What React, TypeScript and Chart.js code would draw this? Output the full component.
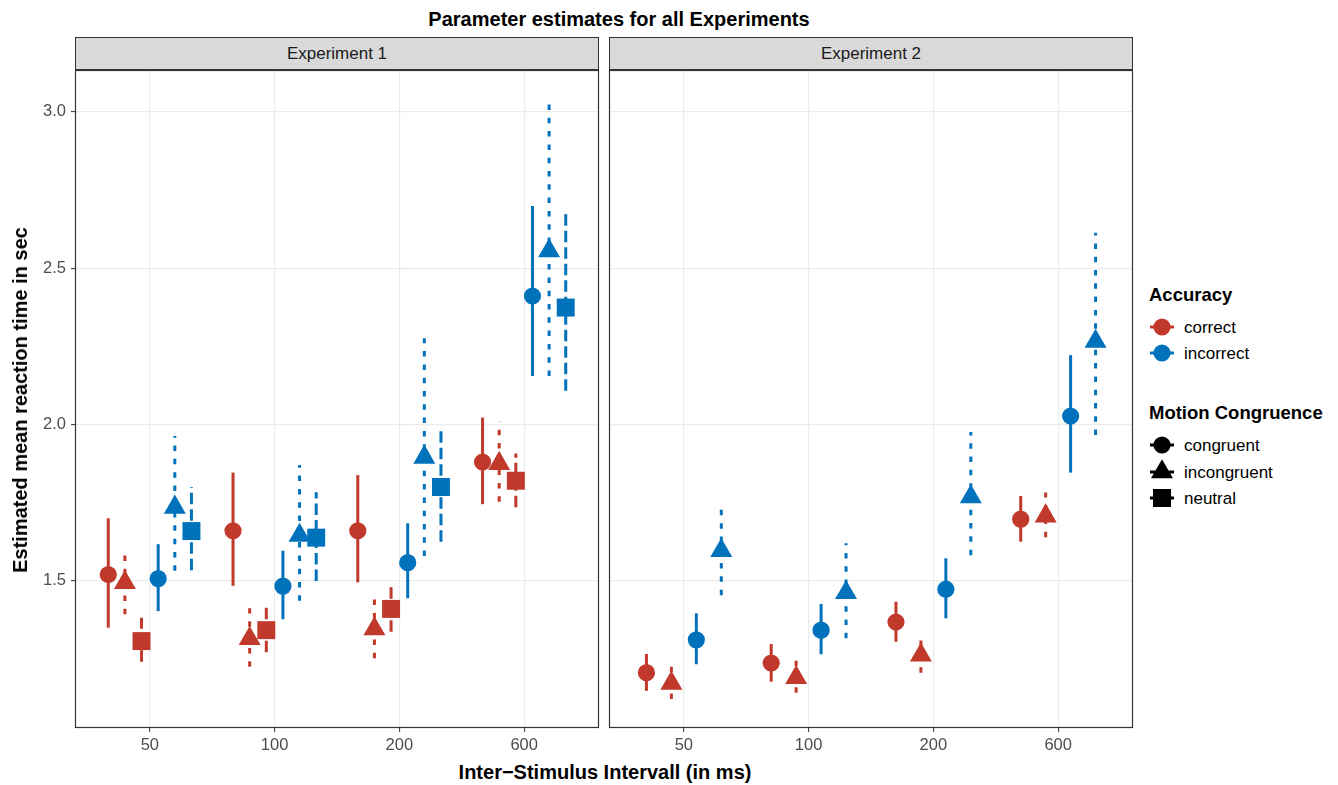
import React, { useEffect, useRef } from 'react';
import { Chart, registerables } from 'chart.js';

Chart.register(...registerables);

// ---------- data ----------
const isiLabels = ['50', '100', '200', '600'];
const yTicks = [1.5, 2.0, 2.5, 3.0];
const Y_MIN = 1.029;
const Y_MAX = 3.134;

// Experiment 1
const e1CorrectCongruent = [1.52, 1.66, 1.66, 1.88];
const e1CorrectCongruentLow = [1.35, 1.484, 1.495, 1.745];
const e1CorrectCongruentHigh = [1.70, 1.846, 1.838, 2.022];
const e1CorrectIncongruent = [1.494, 1.315, 1.346, 1.875];
const e1CorrectIncongruentLow = [1.393, 1.225, 1.252, 1.753];
const e1CorrectIncongruentHigh = [1.602, 1.412, 1.444, 2.009];
const e1CorrectNeutral = [1.307, 1.342, 1.41, 1.82];
const e1CorrectNeutralLow = [1.241, 1.271, 1.337, 1.735];
const e1CorrectNeutralHigh = [1.382, 1.417, 1.481, 1.907];
const e1IncorrectCongruent = [1.507, 1.483, 1.558, 2.411];
const e1IncorrectCongruentLow = [1.403, 1.377, 1.444, 2.155];
const e1IncorrectCongruentHigh = [1.617, 1.596, 1.684, 2.699];
const e1IncorrectIncongruent = [1.735, 1.645, 1.895, 2.555];
const e1IncorrectIncongruentLow = [1.532, 1.436, 1.579, 2.155];
const e1IncorrectIncongruentHigh = [1.963, 1.87, 2.276, 3.047];
const e1IncorrectNeutral = [1.659, 1.638, 1.80, 2.374];
const e1IncorrectNeutralLow = [1.534, 1.499, 1.625, 2.108];
const e1IncorrectNeutralHigh = [1.80, 1.783, 1.993, 2.676];

// Experiment 2
const e2CorrectCongruent = [1.206, 1.237, 1.368, 1.697];
const e2CorrectCongruentLow = [1.148, 1.177, 1.305, 1.625];
const e2CorrectCongruentHigh = [1.266, 1.298, 1.433, 1.771];
const e2CorrectIncongruent = [1.172, 1.19, 1.262, 1.707];
const e2CorrectIncongruentLow = [1.122, 1.142, 1.206, 1.639];
const e2CorrectIncongruentHigh = [1.23, 1.244, 1.318, 1.782];
const e2IncorrectCongruent = [1.311, 1.342, 1.473, 2.027];
const e2IncorrectCongruentLow = [1.233, 1.265, 1.38, 1.846];
const e2IncorrectCongruentHigh = [1.396, 1.426, 1.572, 2.222];
const e2IncorrectIncongruent = [1.596, 1.462, 1.768, 2.266];
const e2IncorrectIncongruentLow = [1.454, 1.316, 1.582, 1.966];
const e2IncorrectIncongruentHigh = [1.748, 1.62, 1.976, 2.613];

// ---------- styles ----------
const FONT = '"Liberation Sans", Arial, Helvetica, sans-serif';
const COLOR_CORRECT = '#C0392B';
const COLOR_INCORRECT = '#0072BB';
const DASH: Record<string, number[]> = {
  congruent: [],
  incongruent: [5.5, 7.8],
  neutral: [11.5, 5],
};
const SHAPE: Record<string, [string, number]> = {
  congruent: ['circle', 8.6],
  incongruent: ['triangle', 12.7],
  neutral: ['rect', 12.7],
};

type Series = {
  acc: 'correct' | 'incorrect';
  cong: 'congruent' | 'incongruent' | 'neutral';
  mean: number[];
  low: number[];
  high: number[];
};

const exp1Series: Series[] = [
  { acc: 'correct', cong: 'congruent', mean: e1CorrectCongruent, low: e1CorrectCongruentLow, high: e1CorrectCongruentHigh },
  { acc: 'correct', cong: 'incongruent', mean: e1CorrectIncongruent, low: e1CorrectIncongruentLow, high: e1CorrectIncongruentHigh },
  { acc: 'correct', cong: 'neutral', mean: e1CorrectNeutral, low: e1CorrectNeutralLow, high: e1CorrectNeutralHigh },
  { acc: 'incorrect', cong: 'congruent', mean: e1IncorrectCongruent, low: e1IncorrectCongruentLow, high: e1IncorrectCongruentHigh },
  { acc: 'incorrect', cong: 'incongruent', mean: e1IncorrectIncongruent, low: e1IncorrectIncongruentLow, high: e1IncorrectIncongruentHigh },
  { acc: 'incorrect', cong: 'neutral', mean: e1IncorrectNeutral, low: e1IncorrectNeutralLow, high: e1IncorrectNeutralHigh },
];

const exp2Series: Series[] = [
  { acc: 'correct', cong: 'congruent', mean: e2CorrectCongruent, low: e2CorrectCongruentLow, high: e2CorrectCongruentHigh },
  { acc: 'correct', cong: 'incongruent', mean: e2CorrectIncongruent, low: e2CorrectIncongruentLow, high: e2CorrectIncongruentHigh },
  { acc: 'incorrect', cong: 'congruent', mean: e2IncorrectCongruent, low: e2IncorrectCongruentLow, high: e2IncorrectCongruentHigh },
  { acc: 'incorrect', cong: 'incongruent', mean: e2IncorrectIncongruent, low: e2IncorrectIncongruentLow, high: e2IncorrectIncongruentHigh },
];

function buildDatasets(series: Series[]) {
  const n = series.length;
  const step = 0.8 / n;
  return series.map((s, k) => {
    const offset = (k - (n - 1) / 2) * step;
    const color = s.acc === 'correct' ? COLOR_CORRECT : COLOR_INCORRECT;
    const [style, radius] = SHAPE[s.cong];
    return {
      label: `${s.acc} ${s.cong}`,
      data: s.mean.map((m, i) => ({ x: i + offset, y: m, lo: s.low[i], hi: s.high[i] })),
      backgroundColor: color,
      borderColor: color,
      pointStyle: style,
      pointRadius: radius,
      pointHoverRadius: radius,
      pointBorderWidth: 0,
      showLine: false,
      errDash: DASH[s.cong],
    };
  });
}

const panelPlugin = {
  id: 'panelDecor',
  beforeDatasetsDraw(chart: any) {
    const ctx = chart.ctx;
    const yScale = chart.scales.y;
    chart.data.datasets.forEach((ds: any, di: number) => {
      const meta = chart.getDatasetMeta(di);
      ctx.save();
      ctx.strokeStyle = ds.borderColor;
      ctx.lineWidth = 3;
      ctx.lineCap = 'butt';
      ctx.setLineDash(ds.errDash);
      ds.data.forEach((pt: any, i: number) => {
        const el = meta.data[i];
        ctx.beginPath();
        ctx.moveTo(el.x, yScale.getPixelForValue(pt.lo));
        ctx.lineTo(el.x, yScale.getPixelForValue(pt.hi));
        ctx.stroke();
      });
      ctx.restore();
    });
  },
  afterDraw(chart: any) {
    const { left, top, right, bottom } = chart.chartArea;
    const ctx = chart.ctx;
    ctx.save();
    ctx.strokeStyle = '#333333';
    ctx.lineWidth = 1.2;
    ctx.strokeRect(Math.round(left) + 0.5, Math.round(top) + 0.5, Math.round(right - left) - 1, Math.round(bottom - top) - 1);
    ctx.restore();
  },
};

const zeroPadding = (s: any) => {
  s.paddingTop = 0;
  s.paddingBottom = 0;
  s.paddingLeft = 0;
  s.paddingRight = 0;
};

function buildOptions(first: boolean, rightPad: number): any {
  const tickFont = { family: FONT, size: 16.5 };
  return {
    animation: false,
    responsive: false,
    maintainAspectRatio: false,
    events: [],
    layout: { autoPadding: false, padding: { top: 10, right: rightPad, bottom: 0, left: 0 } },
    plugins: { legend: { display: false }, tooltip: { enabled: false }, title: { display: false } },
    scales: {
      x: {
        type: 'linear',
        min: -0.6,
        max: 3.6,
        afterBuildTicks: (s: any) => {
          s.ticks = isiLabels.map((_, i) => ({ value: i }));
        },
        afterFit: (s: any) => {
          s.height = 32;
          zeroPadding(s);
        },
        ticks: {
          callback: (_v: any, i: number) => isiLabels[i],
          color: '#4D4D4D',
          font: tickFont,
          padding: 4,
          maxRotation: 0,
          autoSkip: false,
        },
        grid: { color: '#EBEBEB', lineWidth: 1.2, tickColor: '#333333', tickLength: 4, tickWidth: 1 },
        border: { display: false },
      },
      y: {
        type: 'linear',
        min: Y_MIN,
        max: Y_MAX,
        afterBuildTicks: (s: any) => {
          s.ticks = yTicks.map((v) => ({ value: v }));
        },
        afterFit: (s: any) => {
          s.width = first ? 75 : 9;
          zeroPadding(s);
        },
        ticks: {
          display: first,
          callback: (v: any) => Number(v).toFixed(1),
          color: '#4D4D4D',
          font: tickFont,
          padding: 5,
        },
        grid: { color: '#EBEBEB', lineWidth: 1.2, tickColor: '#333333', tickLength: 4, tickWidth: 1, drawTicks: first },
        border: { display: false },
      },
    },
  };
}

function Panel({ series, first, left, width, rightPad }: { series: Series[]; first: boolean; left: number; width: number; rightPad: number }) {
  const ref = useRef<HTMLCanvasElement>(null);
  useEffect(() => {
    const chart = new Chart(ref.current as HTMLCanvasElement, {
      type: 'scatter',
      data: { datasets: buildDatasets(series) as any },
      options: buildOptions(first, rightPad),
      plugins: [panelPlugin],
    });
    return () => chart.destroy();
  }, []);
  return (
    <canvas
      ref={ref}
      width={width}
      height={700}
      style={{ position: 'absolute', left, top: 60, width, height: 700 }}
    />
  );
}

function Strip({ left, width, text }: { left: number; width: number; text: string }) {
  return (
    <div
      style={{
        position: 'absolute',
        left,
        top: 37,
        width,
        height: 33,
        boxSizing: 'border-box',
        background: '#D9D9D9',
        border: '1.2px solid #333333',
        display: 'flex',
        alignItems: 'center',
        justifyContent: 'center',
        fontFamily: FONT,
        fontSize: 17,
        color: '#1A1A1A',
      }}
    >
      {text}
    </div>
  );
}

function KeyGlyph({ shape, color }: { shape: string; color: string }) {
  return (
    <svg width={30} height={26} style={{ display: 'block' }}>
      <line x1={3} x2={27} y1={13} y2={13} stroke={color} strokeWidth={3} />
      {shape === 'circle' && <circle cx={15} cy={13} r={8.6} fill={color} />}
      {shape === 'triangle' && <polygon points="15,0.3 26,19.35 4,19.35" fill={color} />}
      {shape === 'rect' && <rect x={6} y={4} width={18} height={18} fill={color} />}
    </svg>
  );
}

function LegendItem({ y, shape, color, label }: { y: number; shape: string; color: string; label: string }) {
  return (
    <>
      <div style={{ position: 'absolute', left: 1147, top: y - 13 }}>
        <KeyGlyph shape={shape} color={color} />
      </div>
      <div
        style={{
          position: 'absolute',
          left: 1184,
          top: y,
          transform: 'translateY(-50%)',
          fontFamily: FONT,
          fontSize: 17,
          lineHeight: 1,
          color: '#000000',
          whiteSpace: 'nowrap',
        }}
      >
        {label}
      </div>
    </>
  );
}

const textAbs = (x: number, y: number, size: number, extra: any = {}) => ({
  position: 'absolute' as const,
  left: x,
  top: y,
  transform: 'translate(-50%, -50%)',
  fontFamily: FONT,
  fontSize: size,
  fontWeight: 'bold' as const,
  lineHeight: 1,
  color: '#000000',
  whiteSpace: 'nowrap' as const,
  ...extra,
});

export default function App() {
  return (
    <div style={{ position: 'absolute', left: 0, top: 0, width: 1338, height: 785, background: '#FFFFFF', overflow: 'hidden' }}>
      <div style={textAbs(619, 18.5, 20)}>Parameter estimates for all Experiments</div>
      <Strip left={75} width={524} text="Experiment 1" />
      <Strip left={609} width={524} text="Experiment 2" />
      <Panel series={exp1Series} first={true} left={0} width={612} rightPad={13} />
      <Panel series={exp2Series} first={false} left={600} width={545} rightPad={12} />
      <div style={textAbs(605, 772, 20)}>Inter−Stimulus Intervall (in ms)</div>
      <div style={textAbs(20, 400, 20, { transform: 'translate(-50%, -50%) rotate(-90deg)' })}>
        Estimated mean reaction time in sec
      </div>
      <div style={{ ...textAbs(1149, 295, 18.5), transform: 'translateY(-50%)' }}>Accuracy</div>
      <LegendItem y={326.5} shape="circle" color={COLOR_CORRECT} label="correct" />
      <LegendItem y={353} shape="circle" color={COLOR_INCORRECT} label="incorrect" />
      <div style={{ ...textAbs(1149, 413, 18.5), transform: 'translateY(-50%)' }}>Motion Congruence</div>
      <LegendItem y={445} shape="circle" color="#000000" label="congruent" />
      <LegendItem y={471.5} shape="triangle" color="#000000" label="incongruent" />
      <LegendItem y={498} shape="rect" color="#000000" label="neutral" />
    </div>
  );
}
